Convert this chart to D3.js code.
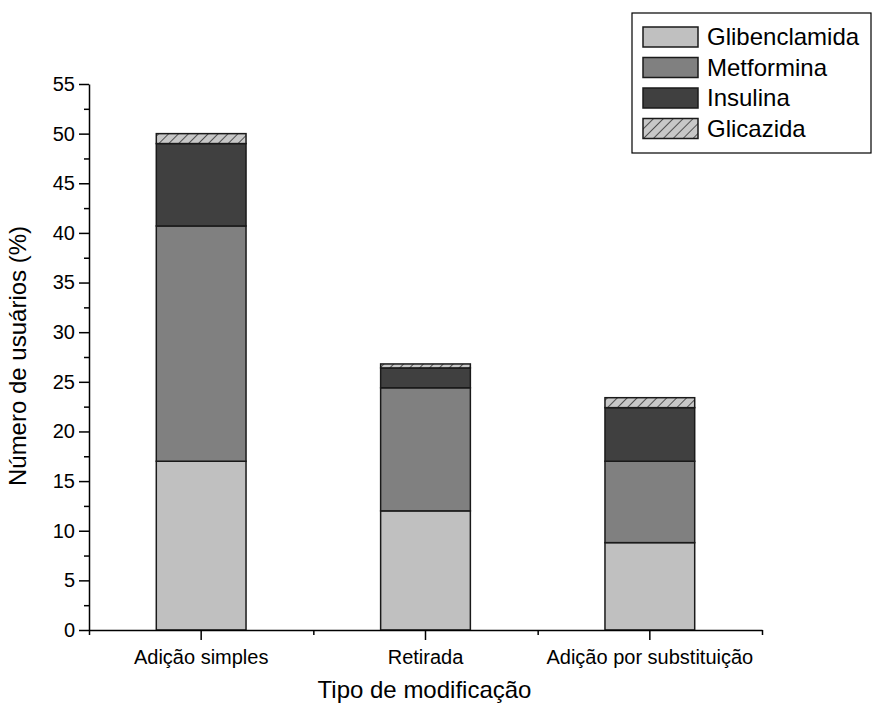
<!DOCTYPE html>
<html>
<head>
<meta charset="utf-8">
<script src="https://cdn.jsdelivr.net/npm/d3@7"></script>
<style>
  html, body { margin: 0; background: #fff; overflow: hidden; }
  svg { display: block; }
  text { font-family: "Liberation Sans", Arial, sans-serif; }
</style>
</head>
<body>
<div id="root"></div>
<script>
const categories = ["Adição simples", "Retirada", "Adição por substituição"];
const drugs = ["Glibenclamida", "Metformina", "Insulina", "Glicazida"];
const glibenclamida = [17.0, 12.0, 8.8];
const metformina = [23.7, 12.4, 8.2];
const insulina = [8.3, 2.0, 5.4];
const glicazida = [1.0, 0.4, 1.0];
const yTicks = [0, 5, 10, 15, 20, 25, 30, 35, 40, 45, 50, 55];

const width = 873;
const height = 707;
const margin = { top: 84, right: 111, bottom: 77, left: 89 };
const innerWidth = width - margin.left - margin.right;
const innerHeight = height - margin.top - margin.bottom;

const fills = {
  Glibenclamida: "#c0c0c0",
  Metformina: "#808080",
  Insulina: "#404040",
  Glicazida: "url(#hatch)",
};

const data = categories.map((c, i) => ({
  category: c,
  Glibenclamida: glibenclamida[i],
  Metformina: metformina[i],
  Insulina: insulina[i],
  Glicazida: glicazida[i],
}));

const svg = d3
  .select("#root")
  .append("svg")
  .attr("width", width)
  .attr("height", height);

const pattern = svg
  .append("defs")
  .append("pattern")
  .attr("id", "hatch")
  .attr("patternUnits", "userSpaceOnUse")
  .attr("width", 7)
  .attr("height", 7)
  .attr("patternTransform", "rotate(45)");
pattern.append("rect").attr("width", 7).attr("height", 7).attr("fill", "#c8c8c8");
pattern
  .append("line")
  .attr("x1", 0)
  .attr("y1", 0)
  .attr("x2", 0)
  .attr("y2", 7)
  .attr("stroke", "#000")
  .attr("stroke-width", 1.2);

const xScale = d3.scaleBand().domain(categories).range([0, innerWidth]);
const yScale = d3.scaleLinear().domain([0, 55]).range([innerHeight, 0]);
const barWidth = xScale.bandwidth() * 0.4;

const chart = svg
  .append("g")
  .attr("transform", `translate(${margin.left}, ${margin.top})`);

const series = d3.stack().keys(drugs)(data);

series.forEach((s) => {
  chart
    .selectAll(`.bar-${s.key}`)
    .data(s)
    .join("rect")
    .attr("class", `bar-${s.key}`)
    .attr("x", (d) => xScale(d.data.category) + (xScale.bandwidth() - barWidth) / 2)
    .attr("width", barWidth)
    .attr("y", (d) => yScale(d[1]))
    .attr("height", (d) => yScale(d[0]) - yScale(d[1]))
    .attr("fill", fills[s.key])
    .attr("stroke", "#1a1a1a")
    .attr("stroke-width", 1.5);
});

// y axis with minor ticks
chart
  .append("g")
  .call(
    d3.axisLeft(yScale)
      .tickValues(d3.range(2.5, 55, 5))
      .tickSize(5)
  )
  .call((g) => g.select(".domain").remove())
  .call((g) => g.selectAll("text").remove());

const yAxis = chart
  .append("g")
  .call(
    d3.axisLeft(yScale)
      .tickValues(yTicks)
      .tickSizeInner(10)
      .tickSizeOuter(0)
      .tickPadding(4)
  );
yAxis.selectAll("text").style("font-size", "20px").attr("fill", "#000");

// x axis: major ticks at categories, minor at boundaries
chart
  .append("g")
  .attr("transform", `translate(0, ${innerHeight})`)
  .call(
    d3.axisBottom(d3.scaleLinear().domain([0, 3]).range([0, innerWidth]))
      .tickValues([0, 1, 2, 3])
      .tickSize(5)
  )
  .call((g) => g.select(".domain").remove())
  .call((g) => g.selectAll("text").remove());

const xAxis = chart
  .append("g")
  .attr("transform", `translate(0, ${innerHeight})`)
  .call(d3.axisBottom(xScale).tickSizeInner(10).tickSizeOuter(0).tickPadding(10));
xAxis.selectAll("text").style("font-size", "20px").attr("fill", "#000");

chart.selectAll(".domain, .tick line").attr("stroke", "#000").attr("stroke-width", 1.5);

// axis titles
svg
  .append("text")
  .attr("x", margin.left + innerWidth / 2 - 1)
  .attr("y", 698)
  .attr("text-anchor", "middle")
  .style("font-size", "24px")
  .text("Tipo de modificação");

svg
  .append("text")
  .attr("transform", `translate(26, ${margin.top + innerHeight / 2 - 1}) rotate(-90)`)
  .attr("text-anchor", "middle")
  .style("font-size", "24px")
  .text("Número de usuários (%)");

// legend
const legend = svg.append("g").attr("transform", "translate(632, 13)");
legend
  .append("rect")
  .attr("width", 239)
  .attr("height", 140)
  .attr("fill", "#fff")
  .attr("stroke", "#000")
  .attr("stroke-width", 1.2);

const items = legend
  .selectAll(".item")
  .data(drugs)
  .join("g")
  .attr("class", "item")
  .attr("transform", (d, i) => `translate(11, ${14 + i * 30.5})`);

items
  .append("rect")
  .attr("width", 55)
  .attr("height", 20)
  .attr("fill", (d) => fills[d])
  .attr("stroke", "#1a1a1a")
  .attr("stroke-width", 1.5);

items
  .append("text")
  .attr("x", 64)
  .attr("y", 18)
  .style("font-size", "24px")
  .text((d) => d);
</script>
</body>
</html>
